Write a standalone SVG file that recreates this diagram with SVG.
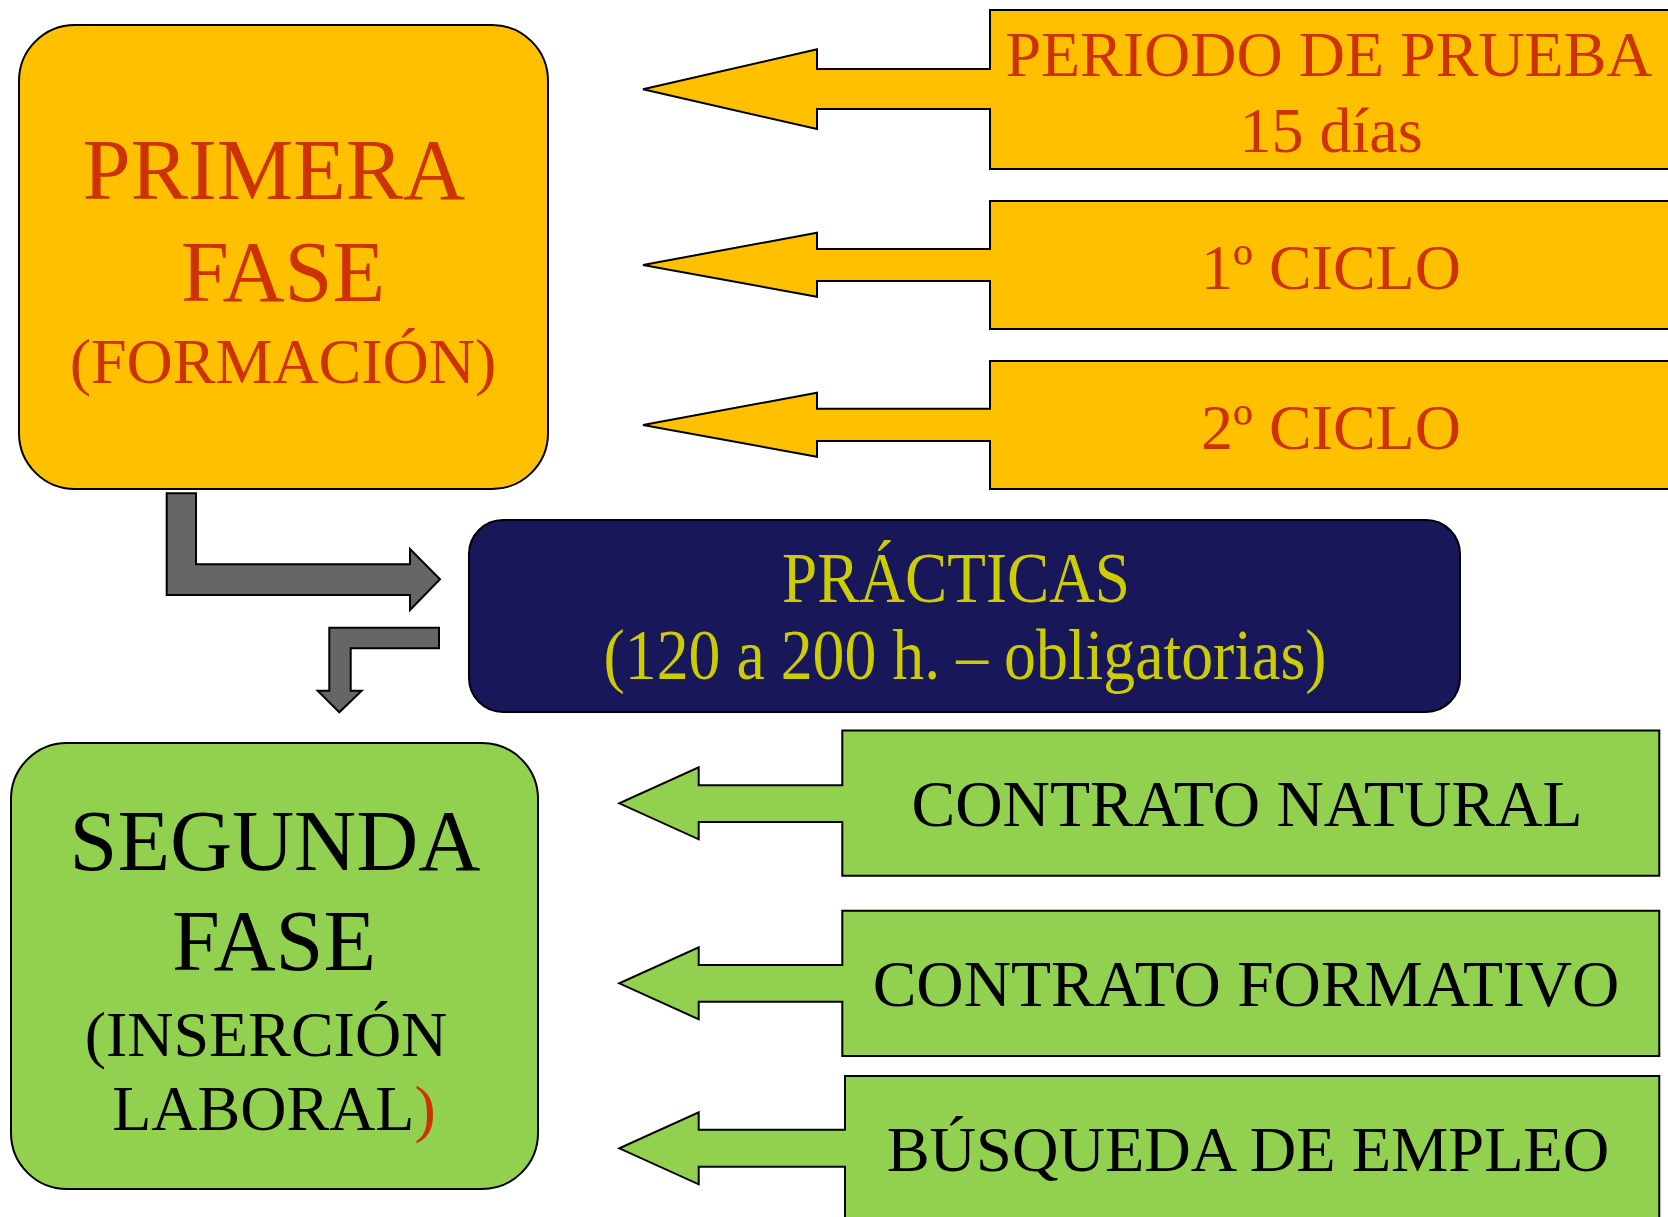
<svg xmlns="http://www.w3.org/2000/svg" width="1668" height="1217" viewBox="0 0 1668 1217">
<style>
  .org { fill: #FFC000; stroke: #000; stroke-width: 2; }
  .grn { fill: #92D050; stroke: #000; stroke-width: 2; }
  .nav { fill: #17175A; stroke: #000; stroke-width: 2; }
  .gry { fill: #666666; stroke: #000; stroke-width: 2; }
  text { font-family: "Liberation Serif", "Times New Roman", serif; text-anchor: middle; }
  .rt { fill: #CC3300; }
  .bk { fill: #000; }
  .yl { fill: #CCCC00; }
</style>
<rect width="1668" height="1217" fill="#fff"/>

<g id="primera-fase">
  <rect class="org" x="19" y="25" width="529" height="464" rx="56"/>
  <text class="rt" x="274" y="199" font-size="86">PRIMERA</text>
  <text class="rt" x="283" y="301" font-size="86">FASE</text>
  <text class="rt" x="283" y="383" font-size="64">(FORMACIÓN)</text>
</g>

<g id="periodo-prueba">
  <path class="org" d="M990,10 H1672 V169 H990 V109 H817 V129 L643,89.3 L817,49.3 V69 H990 Z"/>
  <text class="rt" x="1329" y="76" font-size="64">PERIODO DE PRUEBA</text>
  <text class="rt" x="1331" y="152" font-size="64">15 días</text>
</g>

<g id="ciclo-1">
  <path class="org" d="M990,201 H1672 V329 H990 V281 H817 V296.7 L643,265 L817,232.7 V249 H990 Z"/>
  <text class="rt" x="1331" y="289" font-size="64">1º CICLO</text>
</g>

<g id="ciclo-2">
  <path class="org" d="M990,361 H1672 V489 H990 V441 H817 V456.7 L643,425 L817,392.7 V408.7 H990 Z"/>
  <text class="rt" x="1331" y="449" font-size="64">2º CICLO</text>
</g>

<g id="practicas">
  <rect class="nav" x="469" y="520" width="991" height="192" rx="34"/>
  <text class="yl" x="956" y="602" font-size="71" textLength="348" lengthAdjust="spacingAndGlyphs">PRÁCTICAS</text>
  <text class="yl" x="965" y="679" font-size="71" textLength="723" lengthAdjust="spacingAndGlyphs">(120 a 200 h. – obligatorias)</text>
</g>

<g id="segunda-fase">
  <rect class="grn" x="11" y="743" width="527" height="446" rx="56"/>
  <text class="bk" x="275" y="870" font-size="86">SEGUNDA</text>
  <text class="bk" x="274" y="970" font-size="86">FASE</text>
  <text class="bk" x="266" y="1056" font-size="64">(INSERCIÓN</text>
  <text class="bk" x="274" y="1130" font-size="64">LABORAL<tspan class="rt">)</tspan></text>
</g>

<g id="contrato-natural">
  <path class="grn" d="M842.3,730.5 H1659.3 V875.8 H842.3 V822 H698.7 V839.3 L619.3,803.3 L698.7,767.3 V785.3 H842.3 Z"/>
  <text class="bk" x="1247" y="826" font-size="65.6">CONTRATO NATURAL</text>
</g>

<g id="contrato-formativo">
  <path class="grn" d="M842.3,910.7 H1659.3 V1056 H842.3 V1001.7 H698.7 V1019.3 L619.3,983.3 L698.7,947.3 V965 H842.3 Z"/>
  <text class="bk" x="1246" y="1006" font-size="65.5">CONTRATO FORMATIVO</text>
</g>

<g id="busqueda-empleo">
  <path class="grn" d="M845,1076 H1659.3 V1222 H845 V1166.7 H698.7 V1184.3 L619.3,1148.3 L698.7,1112.3 V1129.7 H845 Z"/>
  <text class="bk" x="1248" y="1171" font-size="64.4">BÚSQUEDA DE EMPLEO</text>
</g>

<g id="connectors">
  <path class="gry" d="M166.7,493.3 H196 V564.3 H410 V549 L440,579.3 L410,610 V595 H166.7 Z"/>
  <path class="gry" d="M439,627.7 V648.3 H350.7 V690.7 H361.7 L339.3,712.3 L317.7,690.7 H329.3 V627.7 Z"/>
</g>
</svg>
